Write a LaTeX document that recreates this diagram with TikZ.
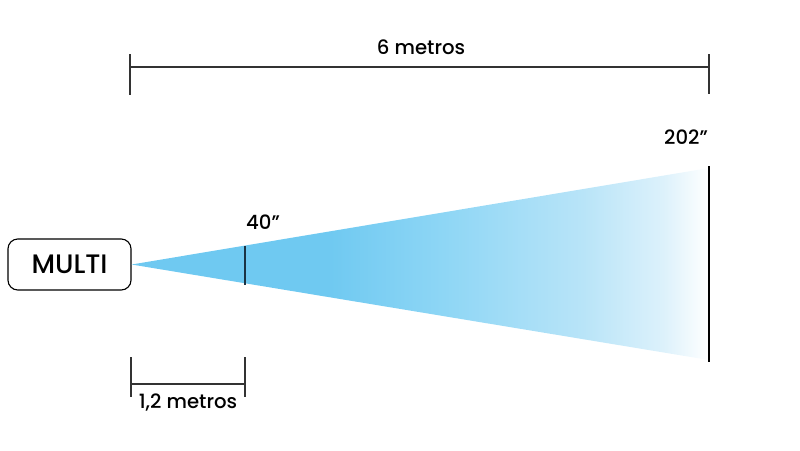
\documentclass[tikz,border=0pt]{standalone}
\usepackage{fontspec}
\setmainfont{Poppins Medium}
\usetikzlibrary{positioning}
\definecolor{beamblue}{HTML}{6FC9F1}
\definecolor{beammid}{HTML}{8ED6F5}
\definecolor{beamlight}{HTML}{B8E4F8}
\definecolor{beampale}{HTML}{DCF1FB}
\definecolor{dimgray}{HTML}{333333}
\definecolor{screennavy}{HTML}{1A3344}
\pgfdeclarehorizontalshading{beamfade}{100bp}{color(0bp)=(beamblue); color(42bp)=(beamblue); color(52bp)=(beammid); color(64bp)=(beamlight); color(71bp)=(beampale); color(75bp)=(white); color(100bp)=(white)}
\tikzset{
  projbox/.style={draw,line width=0.8pt,rounded corners=7pt,minimum width=3.075cm,minimum height=1.275cm,inner sep=0pt,font=\fontsize{19}{22}\selectfont},
  dimline/.style={dimgray,line width=0.8pt},
  screenline/.style={line width=1pt},
  lbl/.style={font=\fontsize{14}{16}\selectfont,inner sep=0pt}
}
\begin{document}
\begin{tikzpicture}[x=0.025cm,y=-0.025cm]
\useasboundingbox (0,0) rectangle (800,450);
% projector
\node[projbox] (multi) at (69.5,264.5) {MULTI};
% beam
\coordinate (big top) at (709,168);
\coordinate (big bot) at (709,360);
\shade[shading=beamfade] (multi.east) -- (big top) -- (big bot) -- cycle;
% screens
\coordinate (small top) at (245,246);
\coordinate (small bot) at (245,285);
\draw[screenline,screennavy] (small top) -- (small bot);
\coordinate (big a) at (709,166);
\coordinate (big b) at (709,362);
\draw[screenline] (big a) -- (big b);
\node[lbl] (s40) at (263,222) {40”};
\node[lbl] (s202) at (686,137) {202”};
% 6 metros
\coordinate (d6l) at (130,67);
\coordinate (d6r) at (709,67);
\draw[dimline] (d6l) -- (d6r);
\draw[dimline] (130,54) -- (130,95);
\draw[dimline] (709,54) -- (709,94);
\node[lbl] (m6) at (421,47) {6 metros};
% 1,2 metros
\coordinate (d1l) at (131,384);
\coordinate (d1r) at (245,384);
\draw[dimline] (d1l) -- (d1r);
\draw[dimline] (131,357) -- (131,397);
\draw[dimline] (245,357) -- (245,397);
\node[lbl] (m12) at (188,403) {1,2 metros};
\end{tikzpicture}
\end{document}
